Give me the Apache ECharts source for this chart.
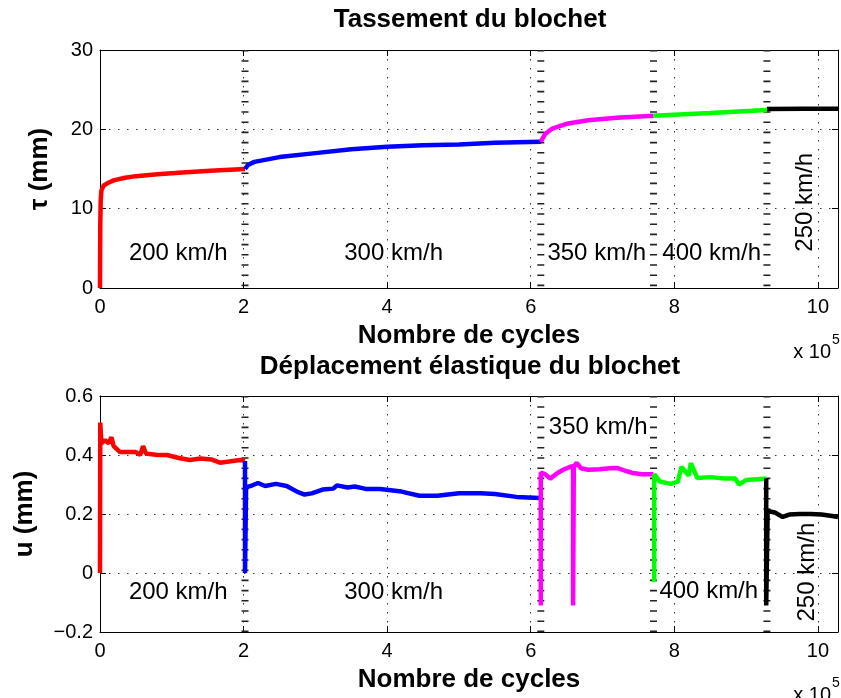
<!DOCTYPE html>
<html>
<head>
<meta charset="utf-8">
<script src="https://cdn.jsdelivr.net/npm/echarts@6/dist/echarts.min.js"></script>
<style>
  html, body { margin: 0; padding: 0; background: #fff; }
  #main { width: 841px; height: 698px; }
</style>
</head>
<body>
<div id="main"></div>
<script>
// cycles are in units of 10^5
var xMax = 10.28
var xTicks = [0, 2, 4, 6, 8, 10]
var changeCycles = [2.02, 6.14, 7.71, 9.29]
var speedLabels = ['200 km/h', '300 km/h', '350 km/h', '400 km/h', '250 km/h']

// tassement tau (mm)
var tauRed = [[0, 0], [0.004, 8], [0.01, 11], [0.02, 12.3], [0.05, 12.9], [0.1, 13.2], [0.2, 13.6], [0.35, 13.9], [0.5, 14.1], [0.8, 14.35], [1.2, 14.6], [1.6, 14.8], [2.02, 15.0]]
var tauBlue = [[2.02, 15.0], [2.06, 15.5], [2.15, 15.9], [2.5, 16.5], [3.0, 17.0], [3.5, 17.5], [4.0, 17.8], [4.5, 18.0], [5.0, 18.1], [5.5, 18.3], [6.14, 18.45]]
var tauMagenta = [[6.14, 18.45], [6.2, 19.4], [6.3, 20.1], [6.5, 20.7], [6.8, 21.15], [7.2, 21.45], [7.71, 21.7]]
var tauGreen = [[7.71, 21.7], [8.5, 22.05], [9.29, 22.45]]
var tauBlack = [[9.29, 22.55], [9.8, 22.6], [10.28, 22.6]]

// deplacement elastique u (mm)
var uRed = [[0, 0], [0.004, 0.51], [0.02, 0.44], [0.07, 0.45], [0.12, 0.44], [0.16, 0.46], [0.19, 0.43], [0.28, 0.41], [0.4, 0.41], [0.5, 0.41], [0.56, 0.4], [0.6, 0.43], [0.64, 0.405], [0.8, 0.4], [0.93, 0.4], [1.1, 0.39], [1.25, 0.383], [1.4, 0.388], [1.55, 0.385], [1.67, 0.374], [1.8, 0.378], [1.95, 0.383], [2.02, 0.38]]
var uBlue = [[2.02, 0.38], [2.02, 0], [2.035, 0.29], [2.1, 0.295], [2.2, 0.305], [2.3, 0.295], [2.45, 0.302], [2.6, 0.295], [2.75, 0.275], [2.85, 0.266], [2.95, 0.27], [3.1, 0.283], [3.25, 0.286], [3.3, 0.297], [3.45, 0.29], [3.55, 0.293], [3.7, 0.285], [3.9, 0.285], [4.2, 0.276], [4.45, 0.262], [4.7, 0.262], [5.0, 0.27], [5.3, 0.27], [5.5, 0.268], [5.8, 0.258], [6.13, 0.254]]
var uMagenta = [[6.14, -0.11], [6.14, 0.34], [6.2, 0.335], [6.27, 0.32], [6.35, 0.335], [6.45, 0.35], [6.55, 0.36], [6.59, 0.362], [6.59, -0.11], [6.6, 0.36], [6.64, 0.373], [6.7, 0.355], [6.8, 0.35], [6.96, 0.352], [7.1, 0.355], [7.2, 0.356], [7.3, 0.348], [7.42, 0.339], [7.55, 0.335], [7.71, 0.335]]
var uGreen = [[7.72, -0.03], [7.72, 0.335], [7.8, 0.31], [7.95, 0.302], [8.05, 0.31], [8.1, 0.36], [8.15, 0.345], [8.2, 0.33], [8.23, 0.372], [8.27, 0.35], [8.32, 0.322], [8.5, 0.325], [8.7, 0.32], [8.85, 0.32], [8.9, 0.3], [9.0, 0.315], [9.15, 0.318], [9.28, 0.32]]
var uBlack = [[9.28, 0.32], [9.28, -0.11], [9.3, 0.21], [9.4, 0.205], [9.51, 0.19], [9.6, 0.198], [9.75, 0.2], [9.9, 0.2], [10.05, 0.198], [10.2, 0.193], [10.28, 0.19]]

// label anchors [x, y] in data units
var tauLabelPos = [[1.09, 4.4], [4.09, 4.4], [6.92, 4.4], [8.52, 4.4], [9.82, 10.8]]
var uLabelPos = [[1.09, -0.064], [4.09, -0.064], [6.94, 0.495], [8.48, -0.062], [9.85, 0.003]]

var font = '"Liberation Sans", Arial, Helvetica, sans-serif'
var colors = ['#ff0000', '#0000ff', '#ff00ff', '#00ff00', '#000000']

var chart = echarts.init(document.getElementById('main'))

function fmtNum(v) {
  var r = Math.round(v * 1000) / 1000
  return String(r).replace('-', '\u2212')
}

function xAxisPair(gi) {
  return [
    {
      gridIndex: gi, type: 'value', min: 0, max: xMax, interval: 2, position: 'bottom',
      axisLine: { show: true, onZero: false, lineStyle: { color: '#000', width: 1 } },
      axisTick: { show: true, inside: true, length: 6, lineStyle: { color: '#000' } },
      axisLabel: {
        fontSize: 20, color: '#000', fontFamily: font, margin: 9,
        formatter: function (v) { return xTicks.indexOf(Math.round(v * 1000) / 1000) >= 0 ? fmtNum(v) : '' }
      },
      splitLine: { show: true, lineStyle: { color: '#333', width: 1, type: [1.5, 7.5] } },
      name: 'Nombre de cycles', nameLocation: 'middle', nameGap: 35,
      nameTextStyle: { fontSize: 26, fontWeight: 'bold', color: '#000', fontFamily: font }
    },
    {
      gridIndex: gi, type: 'value', min: 0, max: xMax, interval: 2, position: 'top',
      axisLine: { show: true, onZero: false, lineStyle: { color: '#000', width: 1 } },
      axisTick: { show: true, inside: true, length: 6, lineStyle: { color: '#000' } },
      axisLabel: { show: false }, splitLine: { show: false }
    }
  ]
}

function yAxisPair(gi, min, max, interval, name, gap) {
  return [
    {
      gridIndex: gi, type: 'value', min: min, max: max, interval: interval, position: 'left',
      axisLine: { show: true, onZero: false, lineStyle: { color: '#000', width: 1 } },
      axisTick: { show: true, inside: true, length: 6, lineStyle: { color: '#000' } },
      axisLabel: { fontSize: 20, color: '#000', fontFamily: font, margin: 7, formatter: fmtNum },
      splitLine: { show: true, lineStyle: { color: '#333', width: 1, type: [1.5, 7.5] } },
      name: name, nameLocation: 'middle', nameGap: gap,
      nameTextStyle: { fontSize: 26, fontWeight: 'bold', color: '#000', fontFamily: font }
    },
    {
      gridIndex: gi, type: 'value', min: min, max: max, interval: interval, position: 'right',
      axisLine: { show: true, onZero: false, lineStyle: { color: '#000', width: 1 } },
      axisTick: { show: true, inside: true, length: 6, lineStyle: { color: '#000' } },
      axisLabel: { show: false }, splitLine: { show: false }
    }
  ]
}

function curve(data, color, xi, yi) {
  return {
    type: 'line', xAxisIndex: xi, yAxisIndex: yi, data: data, showSymbol: false, symbol: 'none',
    lineStyle: { color: color, width: 4.5 }, z: 5, silent: true, animation: false
  }
}

function markers(xi, yi, ymin, ymax) {
  return changeCycles.map(function (c) {
    return {
      type: 'line', xAxisIndex: xi, yAxisIndex: yi, data: [[c, ymax], [c, ymin]], symbol: 'none',
      lineStyle: { color: '#222', width: 7, type: [1.6, 8.6] }, z: 3, silent: true, animation: false
    }
  })
}

function speedText(pos, xi, yi) {
  return {
    type: 'scatter', xAxisIndex: xi, yAxisIndex: yi, symbolSize: 0, z: 6, silent: true, animation: false,
    itemStyle: { color: '#000', opacity: 1 },
    data: pos.map(function (p, i) { return { value: p, name: speedLabels[i] } }),
    label: {
      show: true, position: 'inside', color: '#000', fontSize: 24, fontFamily: font,
      textBorderWidth: 0, textBorderColor: 'transparent', opacity: 1,
      formatter: function (p) { return p.name }
    },
    labelLayout: function (p) { return p.dataIndex === 4 ? { rotate: 90 } : {} }
  }
}

var series = []
  .concat(markers(0, 0, 0, 30))
  .concat([tauRed, tauBlue, tauMagenta, tauGreen, tauBlack].map(function (d, i) { return curve(d, colors[i], 0, 0) }))
  .concat([speedText(tauLabelPos, 0, 0)])
  .concat(markers(2, 2, -0.2, 0.6))
  .concat([uRed, uBlue, uMagenta, uGreen, uBlack].map(function (d, i) { return curve(d, colors[i], 2, 2) }))
  .concat([speedText(uLabelPos, 2, 2)])

var option = {
  backgroundColor: '#fff',
  animation: false,
  grid: [
    { left: 100, top: 50, right: 3, height: 238 },
    { left: 100, top: 396, right: 3, height: 236 }
  ],
  xAxis: xAxisPair(0).concat(xAxisPair(1)),
  yAxis: yAxisPair(0, 0, 30, 10, '\u03c4 (mm)', 47).concat(yAxisPair(1, -0.2, 0.6, 0.2, 'u (mm)', 62)),
  series: series,
  graphic: [
    { type: 'text', x: 470, y: 20, style: { text: 'Tassement du blochet', font: 'bold 26px ' + font, fill: '#000', textAlign: 'center', textVerticalAlign: 'middle' } },
    { type: 'text', x: 470, y: 367, style: { text: 'D\u00e9placement \u00e9lastique du blochet', font: 'bold 26px ' + font, fill: '#000', textAlign: 'center', textVerticalAlign: 'middle' } },
    { type: 'text', x: 831, y: 352, style: { text: 'x 10', font: '20px ' + font, fill: '#000', textAlign: 'right', textVerticalAlign: 'middle' } },
    { type: 'text', x: 832, y: 340, style: { text: '5', font: '14px ' + font, fill: '#000', textAlign: 'left', textVerticalAlign: 'middle' } },
    { type: 'text', x: 831, y: 695, style: { text: 'x 10', font: '20px ' + font, fill: '#000', textAlign: 'right', textVerticalAlign: 'middle' } },
    { type: 'text', x: 832, y: 683, style: { text: '5', font: '14px ' + font, fill: '#000', textAlign: 'left', textVerticalAlign: 'middle' } }
  ]
}

chart.setOption(option)
</script>
</body>
</html>
